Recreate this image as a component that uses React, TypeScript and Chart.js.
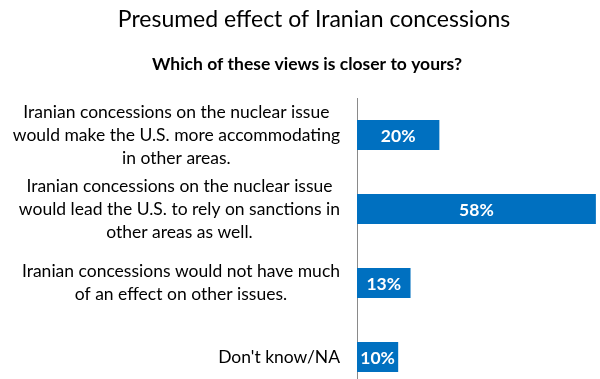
import React, { useEffect, useRef } from "react";
import { Chart, registerables } from "chart.js";

Chart.register(...registerables);

const titleText = "Presumed effect of Iranian concessions";
const subtitleText = "Which of these views is closer to yours?";

const categories: string[][] = [
  [
    "Iranian concessions on the nuclear issue",
    "would make the U.S. more accommodating",
    "in other areas.",
  ],
  [
    "Iranian concessions on the nuclear issue",
    "would lead the U.S. to rely on sanctions in",
    "other areas as well.",
  ],
  ["Iranian concessions would not have much", "of an effect on other issues."],
  ["Don't know/NA"],
];

const values: number[] = [20, 58, 13, 10];

const FONT = "Lato, 'Open Sans', sans-serif";

const drawPlugin = {
  id: "customText",
  beforeDatasetsDraw(chart: any) {
    const ctx = chart.ctx;
    const xScale = chart.scales.x;
    const x0 = Math.round(xScale.getPixelForValue(0)) + 0.5;
    ctx.save();
    ctx.strokeStyle = "#8a8a8a";
    ctx.lineWidth = 1;
    ctx.beginPath();
    ctx.moveTo(x0, chart.chartArea.top);
    ctx.lineTo(x0, chart.height);
    ctx.stroke();
    ctx.restore();
  },
  afterDraw(chart: any) {
    const ctx = chart.ctx;
    const xScale = chart.scales.x;
    const yScale = chart.scales.y;
    ctx.save();
    // Title
    ctx.fillStyle = "#000";
    ctx.textAlign = "center";
    ctx.textBaseline = "middle";
    ctx.font = `23px ${FONT}`;
    ctx.fillText(titleText, 314, 20);
    ctx.font = `bold 17.5px ${FONT}`;
    ctx.fillText(subtitleText, 307, 64);

    // Category labels: block right-aligned to the axis, lines centered in block
    const labelRight = xScale.getPixelForValue(0) - 17;
    const lineH = 23;
    ctx.font = `17.5px ${FONT}`;
    categories.forEach((lines, i) => {
      const cy = yScale.getPixelForValue(i);
      let maxW = 0;
      lines.forEach((l) => {
        maxW = Math.max(maxW, ctx.measureText(l).width);
      });
      const cx = labelRight - maxW / 2;
      const startY = cy - ((lines.length - 1) * lineH) / 2;
      lines.forEach((l, j) => {
        ctx.fillText(l, cx, startY + j * lineH);
      });
    });

    // Data labels
    const meta = chart.getDatasetMeta(0);
    ctx.fillStyle = "#fff";
    ctx.font = `bold 17.5px ${FONT}`;
    meta.data.forEach((bar: any, i: number) => {
      const cx = (bar.x + bar.base) / 2;
      ctx.fillText(`${values[i]}%`, cx, bar.y + 1);
    });
    ctx.restore();
  },
};

export default function App() {
  const ref = useRef<HTMLCanvasElement | null>(null);

  useEffect(() => {
    if (!ref.current) return;
    const chart = new Chart(ref.current, {
      type: "bar",
      data: {
        labels: categories.map((c) => c.join(" ")),
        datasets: [
          {
            data: values,
            backgroundColor: "#0070C0",
            borderWidth: 0,
            barPercentage: 0.405,
            categoryPercentage: 1,
          },
        ],
      },
      options: {
        indexAxis: "y",
        responsive: false,
        animation: false,
        layout: { padding: { left: 357, top: 98, right: 0, bottom: 6 } },
        scales: {
          x: { type: "linear", min: 0, max: 59, display: false },
          y: { type: "category", display: false },
        },
        plugins: {
          legend: { display: false },
          tooltip: { enabled: false },
          title: { display: false },
        },
      },
      plugins: [drawPlugin],
    });
    return () => chart.destroy();
  }, []);

  return (
    <div
      style={{
        position: "fixed",
        left: 0,
        top: 0,
        width: 600,
        height: 379,
        overflow: "hidden",
        background: "#fff",
      }}
    >
      <canvas ref={ref} width={600} height={400} style={{ display: "block" }} />
    </div>
  );
}
